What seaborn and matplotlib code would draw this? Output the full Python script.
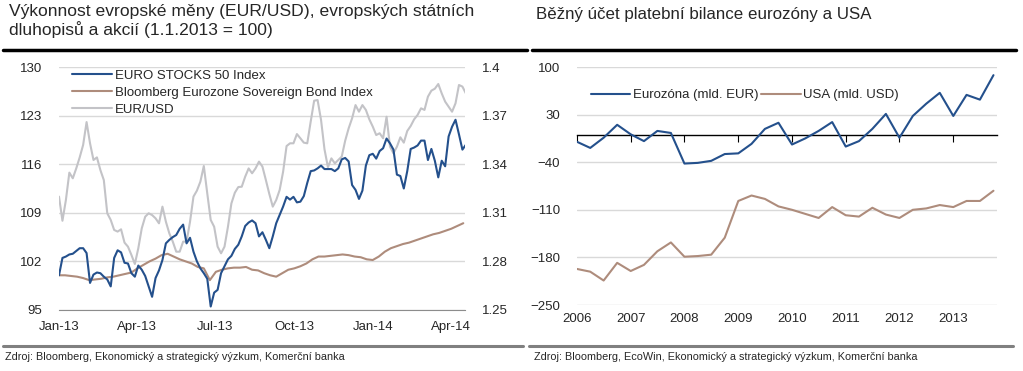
import matplotlib
matplotlib.use("Agg")

import pandas as pd
import matplotlib.pyplot as plt
import matplotlib.dates as mdates
from matplotlib.lines import Line2D
import seaborn as sns

# --- left chart: EURO STOXX 50 and EUR/USD (every 4 days), bond index (weekly)
days = pd.date_range("2013-01-01", periods=119, freq="4D")
stoxx = [
    100.0, 102.5, 102.7, 103.0, 103.1, 103.5, 103.9, 103.9, 103.2, 98.9,
    100.1, 100.4, 100.3, 99.8, 99.4, 98.4, 102.5, 103.6, 103.3, 101.8,
    101.7, 100.3, 99.8, 101.4, 100.8, 99.9, 98.4, 96.9, 99.6, 100.7,
    102.2, 104.6, 105.1, 105.5, 105.8, 106.7, 107.3, 104.6, 105.4, 103.4,
    102.0, 101.0, 100.3, 99.5, 95.5, 97.5, 97.9, 100.3, 101.3, 102.3,
    102.8, 103.8, 104.4, 105.6, 107.1, 107.6, 107.9, 107.5, 105.6, 106.2,
    105.1, 103.9, 105.6, 107.5, 108.7, 109.9, 111.3, 110.9, 111.3, 110.5,
    110.6, 111.4, 113.3, 115.0, 115.1, 115.4, 115.8, 115.3, 115.3, 115.3,
    115.0, 115.4, 116.7, 116.9, 116.4, 113.0, 112.3, 111.0, 112.2, 115.8,
    117.3, 117.5, 116.8, 117.9, 118.3, 119.7, 119.0, 118.1, 114.5, 114.3,
    112.5, 115.0, 118.2, 118.4, 118.7, 119.4, 119.4, 116.6, 118.2, 116.5,
    114.1, 116.5, 115.7, 120.0, 121.4, 122.4, 120.3, 118.1, 118.8,
]
eurusd = [
    1.3200, 1.3051, 1.3179, 1.3348, 1.3313, 1.3374, 1.3442, 1.3519, 1.3660, 1.3529,
    1.3426, 1.3442, 1.3364, 1.3302, 1.3097, 1.3056, 1.2994, 1.2984, 1.2998, 1.2916,
    1.2891, 1.2840, 1.2784, 1.2881, 1.3004, 1.3076, 1.3097, 1.3086, 1.3066, 1.3035,
    1.3138, 1.3045, 1.2973, 1.2922, 1.2860, 1.2860, 1.2922, 1.2922, 1.3045, 1.3200,
    1.3237, 1.3292, 1.3389, 1.3220, 1.3056, 1.3014, 1.2891, 1.2850, 1.2891, 1.3014,
    1.3158, 1.3224, 1.3259, 1.3261, 1.3323, 1.3374, 1.3344, 1.3374, 1.3416, 1.3385,
    1.3302, 1.3216, 1.3138, 1.3179, 1.3241, 1.3354, 1.3512, 1.3529, 1.3529, 1.3586,
    1.3560, 1.3533, 1.3529, 1.3663, 1.3792, 1.3796, 1.3673, 1.3492, 1.3381, 1.3436,
    1.3405, 1.3426, 1.3447, 1.3545, 1.3621, 1.3683, 1.3765, 1.3724, 1.3765, 1.3735,
    1.3677, 1.3632, 1.3580, 1.3591, 1.3560, 1.3693, 1.3508, 1.3467, 1.3508, 1.3566,
    1.3533, 1.3605, 1.3636, 1.3677, 1.3704, 1.3745, 1.3735, 1.3817, 1.3854, 1.3866,
    1.3895, 1.3837, 1.3786, 1.3755, 1.3724, 1.3776, 1.3889, 1.3879, 1.3837,
]
weeks = pd.date_range("2013-01-01", periods=68, freq="7D")
bonds = [
    100.0, 100.0, 99.9, 99.8, 99.6, 99.3, 99.4, 99.5, 99.7, 99.8,
    100.0, 100.2, 100.4, 101.0, 101.5, 102.0, 102.4, 102.9, 103.1, 102.7,
    102.3, 102.0, 101.7, 101.2, 101.0, 99.3, 100.5, 100.8, 101.0, 101.1,
    101.1, 101.2, 100.8, 100.7, 100.3, 100.0, 99.8, 100.3, 100.8, 101.0,
    101.3, 101.7, 102.3, 102.7, 102.7, 102.8, 102.9, 103.0, 102.9, 102.7,
    102.6, 102.3, 102.2, 102.7, 103.4, 103.9, 104.2, 104.5, 104.7, 105.0,
    105.3, 105.6, 105.9, 106.1, 106.4, 106.7, 107.1, 107.5,
]
left_ticks = [95, 102, 109, 116, 123, 130]
right_ticks = [1.25, 1.28, 1.31, 1.34, 1.37, 1.40]
right_labels = ["1.25", "1.28", "1.31", "1.34", "1.37", "1.4"]

# --- right chart: quarterly current account balance
quarters = pd.date_range("2006-01-01", periods=32, freq="QS")
eurozone = [
    -10, -19, -4, 15, 1, -9, 6, 3, -42, -41, -38, -28, -27, -13, 9, 18,
    -14, -5, 6, 19, -17, -9, 9, 31, -4, 28, 46, 62, 28, 59, 52, 88,
]
usa = [
    -197, -201, -214, -188, -200, -191, -171, -158, -179, -178, -176, -151,
    -97, -89, -94, -105, -110, -116, -122, -106, -118, -120, -107, -117,
    -122, -110, -108, -103, -106, -97, -97, -82,
]
ca_ticks = [-250, -180, -110, -40, 30, 100]

BLUE = "#24508c"
BROWN = "#ae8c7c"
GREY = "#c3c3c7"
GRID = "#d9d9d9"

sns.set_style("white")
plt.rcParams["font.family"] = ["Liberation Sans", "DejaVu Sans"]

W, H = 1023, 371
fig = plt.figure(figsize=(W / 100, H / 100), dpi=100)

# ---------------- left panel
ax2 = fig.add_axes([59 / W, 1 - 310 / H, 406 / W, 243 / H])
ax = ax2.twinx()
ax.set_zorder(ax2.get_zorder() + 1)
ax.patch.set_visible(False)

sns.lineplot(x=days, y=eurusd, ax=ax2, color=GREY, lw=1.5)
sns.lineplot(x=weeks, y=bonds, ax=ax, color=BROWN, lw=1.5)
sns.lineplot(x=days, y=stoxx, ax=ax, color=BLUE, lw=1.5)

ax.yaxis.tick_left()
ax.set_ylim(95, 130)
ax.set_yticks(left_ticks)
ax2.yaxis.tick_right()
ax2.set_ylim(1.25, 1.40)
ax2.set_yticks(right_ticks, labels=right_labels)
ax2.grid(axis="y", color=GRID, lw=1)
ax2.grid(axis="x", visible=False)
ax.grid(False)

start, end = pd.Timestamp("2013-01-01"), pd.Timestamp("2014-04-17")
for a in (ax, ax2):
    a.set_xlim(start, end)
    a.set_xlabel("")
    a.set_ylabel("")
    for s in a.spines.values():
        s.set_visible(False)
ax2.spines["bottom"].set_visible(True)
ax2.spines["bottom"].set_color("#8c8c8c")
ax2.xaxis.set_major_locator(mdates.MonthLocator(bymonth=[1, 4, 7, 10]))
ax2.xaxis.set_major_formatter(mdates.DateFormatter("%b-%y"))
ax2.tick_params(axis="x", length=4, color="#8c8c8c", labelsize=9.5, pad=4)
ax2.tick_params(axis="y", length=0, labelsize=9.5, pad=12)
ax.tick_params(axis="y", length=0, labelsize=9.5, pad=12)
ax.tick_params(axis="x", bottom=False, labelbottom=False)

handles = [
    Line2D([], [], color=BLUE, lw=1.5),
    Line2D([], [], color=BROWN, lw=1.5),
    Line2D([], [], color=GREY, lw=1.5),
]
names = ["EURO STOCKS 50 Index", "Bloomberg Eurozone Sovereign Bond Index", "EUR/USD"]
ax.legend(handles, names, loc="upper left", bbox_to_anchor=(0.02, 1.01),
          frameon=False, fontsize=9.5, handlelength=3.0, handletextpad=0.25,
          labelspacing=0.35, borderaxespad=0)

# ---------------- right panel
axr = fig.add_axes([577 / W, 1 - 305 / H, 420 / W, 238 / H])
sns.lineplot(x=quarters, y=eurozone, ax=axr, color=BLUE, lw=1.5, label="Eurozóna (mld. EUR)")
sns.lineplot(x=quarters, y=usa, ax=axr, color=BROWN, lw=1.5, label="USA (mld. USD)")
axr.set_ylim(-250, 100)
axr.set_yticks(ca_ticks)
axr.set_xlim(pd.Timestamp("2006-01-01"), pd.Timestamp("2013-10-25"))
years = pd.date_range("2006-01-01", "2013-01-01", freq="YS")
axr.set_xticks(years)
axr.xaxis.set_major_formatter(mdates.DateFormatter("%Y"))
axr.grid(axis="y", color=GRID, lw=1)
axr.grid(axis="x", visible=False)
axr.set_xlabel("")
axr.set_ylabel("")
for s in axr.spines.values():
    s.set_visible(False)
axr.tick_params(axis="x", length=0, labelsize=9.5, pad=6)
axr.tick_params(axis="y", length=0, labelsize=9.5, pad=12)

# zero line with year ticks hanging below it
zero_pos = (0 - (-250)) / (100 - (-250))
sec = axr.secondary_xaxis(zero_pos)
sec.set_xticks(mdates.date2num(years))
sec.tick_params(axis="x", direction="in", length=5, color="black", labeltop=False,
                labelbottom=False)
for s in sec.spines.values():
    s.set_color("black")
    s.set_linewidth(1.0)

axr.legend(loc="upper left", bbox_to_anchor=(0.02, 0.93), ncol=2, frameon=False,
           fontsize=9.5, handlelength=3.0, handletextpad=0.2, columnspacing=0.2,
           borderaxespad=0)

# ---------------- titles, rules and sources
fig.text(9 / W, 1 - 4 / H,
         "Výkonnost evropské měny (EUR/USD), evropských státních\n"
         "dluhopisů a akcií (1.1.2013 = 100)",
         ha="left", va="top", fontsize=12.6, linespacing=1.14)
fig.text(536 / W, 1 - 15 / H, "Běžný účet platební bilance eurozóny a USA",
         ha="left", va="center", fontsize=12.2)

fig.add_artist(Line2D([3 / W, 527 / W], [1 - 50 / H] * 2, color="black", lw=2.5))
fig.add_artist(Line2D([532 / W, 1016 / W], [1 - 50 / H] * 2, color="black", lw=2.5))
fig.add_artist(Line2D([3 / W, 523 / W], [1 - 346 / H] * 2, color="#808080", lw=2.2))
fig.add_artist(Line2D([529 / W, 1013 / W], [1 - 346 / H] * 2, color="#808080", lw=2.2))

fig.text(5 / W, 1 - 357 / H, "Zdroj: Bloomberg, Ekonomický a strategický výzkum, Komerční banka",
         ha="left", va="center", fontsize=7.8)
fig.text(534 / W, 1 - 357 / H,
         "Zdroj: Bloomberg, EcoWin, Ekonomický a strategický výzkum, Komerční banka",
         ha="left", va="center", fontsize=7.8)

fig.savefig("out.png", dpi=100)
plt.close(fig)
